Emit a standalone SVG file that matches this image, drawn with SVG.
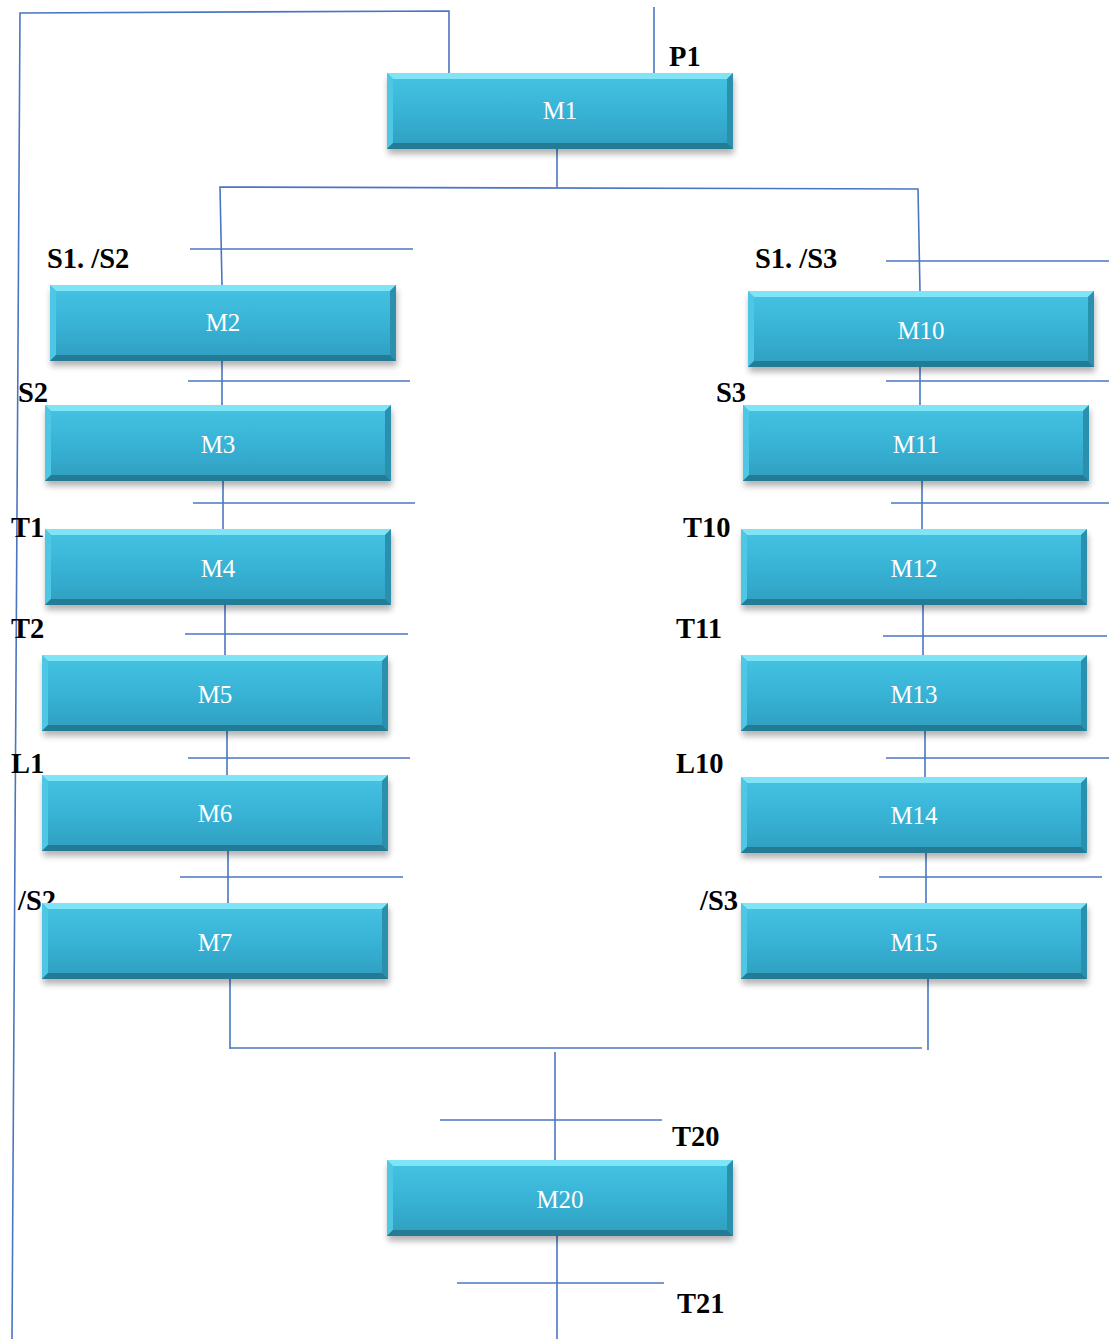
<svg xmlns="http://www.w3.org/2000/svg" width="1109" height="1339" viewBox="0 0 1109 1339">
<style>
.ln{stroke:#4a76c0;stroke-width:1.6;fill:none}
.lbl{font-family:"Liberation Serif",serif;font-weight:bold;font-size:28.5px;fill:#000}
.bt{font-family:"Liberation Serif",serif;font-size:25px;fill:#fff;text-anchor:middle}
</style>
<defs>
<linearGradient id="g" x1="0" y1="0" x2="0" y2="1">
<stop offset="0" stop-color="#46c4e3"/>
<stop offset="0.5" stop-color="#38b3d6"/>
<stop offset="1" stop-color="#2f9ebf"/>
</linearGradient>
<filter id="sh" x="-10%" y="-20%" width="120%" height="160%"><feGaussianBlur stdDeviation="3"/></filter>
<g id="box">
<rect x="1" y="5" width="346" height="76" fill="#000" opacity="0.3" filter="url(#sh)"/>
<rect x="0" y="0" width="346" height="76" fill="url(#g)"/>
<polygon points="0,0 346,0 340,6 6,6" fill="#80e4f7"/>
<polygon points="0,0 6,6 6,70 0,76" fill="#4ec7e4"/>
<polygon points="346,0 346,76 340,70 340,6" fill="#2b90ae"/>
<polygon points="0,76 6,70 340,70 346,76" fill="#247b95"/>
</g>
</defs>
<g id="connectors">
<polyline class="ln" points="449,73 449,11 20,13 12,1339"/>
<line class="ln" x1="654" y1="7" x2="654" y2="73"/>
<polyline class="ln" points="557,149 557,187"/>
<polyline class="ln" points="222,285 220,187 918,189 920,291"/>
<line class="ln" x1="190" y1="249" x2="413" y2="249"/>
<line class="ln" x1="886" y1="261" x2="1109" y2="261"/>
<line class="ln" x1="222" y1="360" x2="222" y2="405"/>
<line class="ln" x1="188" y1="381" x2="410" y2="381"/>
<line class="ln" x1="223" y1="481" x2="223" y2="529"/>
<line class="ln" x1="193" y1="503" x2="415" y2="503"/>
<line class="ln" x1="225" y1="605" x2="225" y2="655"/>
<line class="ln" x1="185" y1="634" x2="408" y2="634"/>
<line class="ln" x1="227" y1="731" x2="227" y2="775"/>
<line class="ln" x1="188" y1="758" x2="410" y2="758"/>
<line class="ln" x1="228" y1="851" x2="228" y2="903"/>
<line class="ln" x1="180" y1="877" x2="403" y2="877"/>
<polyline class="ln" points="230,979 230,1049"/>
<line class="ln" x1="230" y1="1048" x2="922" y2="1048"/>
<line class="ln" x1="928" y1="979" x2="928" y2="1050"/>
<line class="ln" x1="920" y1="367" x2="920" y2="405"/>
<line class="ln" x1="886" y1="381" x2="1109" y2="381"/>
<line class="ln" x1="922" y1="481" x2="922" y2="529"/>
<line class="ln" x1="891" y1="503" x2="1109" y2="503"/>
<line class="ln" x1="923" y1="605" x2="923" y2="655"/>
<line class="ln" x1="883" y1="636" x2="1107" y2="636"/>
<line class="ln" x1="925" y1="731" x2="925" y2="777"/>
<line class="ln" x1="886" y1="758" x2="1109" y2="758"/>
<line class="ln" x1="926" y1="853" x2="926" y2="903"/>
<line class="ln" x1="879" y1="877" x2="1102" y2="877"/>
<line class="ln" x1="555" y1="1052" x2="555" y2="1160"/>
<line class="ln" x1="440" y1="1120" x2="662" y2="1120"/>
<line class="ln" x1="557" y1="1236" x2="557" y2="1339"/>
<line class="ln" x1="457" y1="1283" x2="664" y2="1283"/>
</g>
<g id="labels">
<text class="lbl" x="669" y="66">P1</text>
<text class="lbl" x="47" y="268">S1. /S2</text>
<text class="lbl" x="755" y="268">S1. /S3</text>
<text class="lbl" x="18" y="402">S2</text>
<text class="lbl" x="716" y="402">S3</text>
<text class="lbl" x="11" y="537">T1</text>
<text class="lbl" x="683" y="537">T10</text>
<text class="lbl" x="11" y="638">T2</text>
<text class="lbl" x="676" y="638">T11</text>
<text class="lbl" x="11" y="773">L1</text>
<text class="lbl" x="676" y="773">L10</text>
<text class="lbl" x="18" y="910">/S2</text>
<text class="lbl" x="700" y="910">/S3</text>
<text class="lbl" x="672" y="1146">T20</text>
<text class="lbl" x="677" y="1313">T21</text>
</g>
<g id="M1" transform="translate(387,73)"><use href="#box"/><text class="bt" x="173" y="46">M1</text></g>
<g id="M2" transform="translate(50,285)"><use href="#box"/><text class="bt" x="173" y="46">M2</text></g>
<g id="M3" transform="translate(45,405)"><use href="#box"/><text class="bt" x="173" y="48">M3</text></g>
<g id="M4" transform="translate(45,529)"><use href="#box"/><text class="bt" x="173" y="48">M4</text></g>
<g id="M5" transform="translate(42,655)"><use href="#box"/><text class="bt" x="173" y="48">M5</text></g>
<g id="M6" transform="translate(42,775)"><use href="#box"/><text class="bt" x="173" y="47">M6</text></g>
<g id="M7" transform="translate(42,903)"><use href="#box"/><text class="bt" x="173" y="48">M7</text></g>
<g id="M10" transform="translate(748,291)"><use href="#box"/><text class="bt" x="173" y="48">M10</text></g>
<g id="M11" transform="translate(743,405)"><use href="#box"/><text class="bt" x="173" y="48">M11</text></g>
<g id="M12" transform="translate(741,529)"><use href="#box"/><text class="bt" x="173" y="48">M12</text></g>
<g id="M13" transform="translate(741,655)"><use href="#box"/><text class="bt" x="173" y="48">M13</text></g>
<g id="M14" transform="translate(741,777)"><use href="#box"/><text class="bt" x="173" y="47">M14</text></g>
<g id="M15" transform="translate(741,903)"><use href="#box"/><text class="bt" x="173" y="48">M15</text></g>
<g id="M20" transform="translate(387,1160)"><use href="#box"/><text class="bt" x="173" y="48">M20</text></g>
</svg>
